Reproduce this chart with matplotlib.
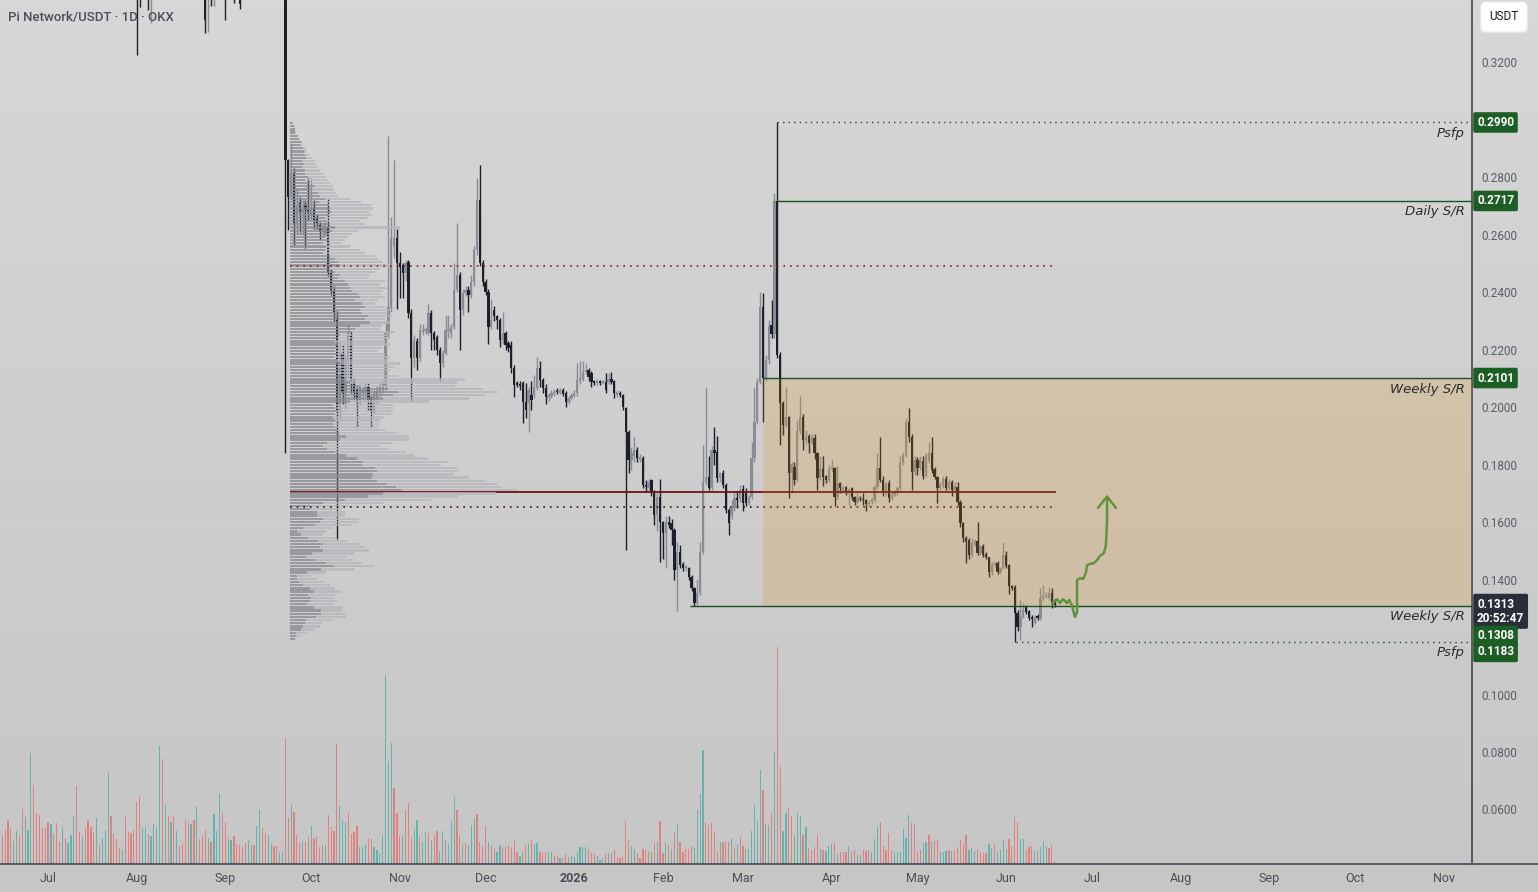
import numpy as np
import pandas as pd
import matplotlib
matplotlib.use("Agg")
import matplotlib.pyplot as plt
import matplotlib.dates as mdates
from matplotlib.colors import LinearSegmentedColormap
from matplotlib.lines import Line2D
from matplotlib.patches import Rectangle
from matplotlib.transforms import blended_transform_factory

plt.rcParams["font.family"] = ["Roboto", "DejaVu Sans"]

# ---- daily candles, 2025-06-15 .. 2026-06-18 ----
first_day = "2025-06-15"

opens = [
    # Jun - Sep 2025 (mostly above the visible range)
    .640, .625, .610, .598, .585, .592, .600, .588, .562, .570,
    .578, .605, .580, .566, .555, .548, .540, .532, .538, .530,
    .522, .515, .520, .512, .516, .521, .530, .505, .495, .500,
    .492, .482, .472, .465, .470, .462, .468, .474, .490, .475,
    .462, .452, .446, .450, .440, .432, .425, .418, .392, .370,
    .382, .395, .378, .386, .398, .405, .440, .410, .418, .405,
    .412, .402, .406, .398, .392, .385, .378, .384, .376, .382,
    .370, .360, .345, .352, .348, .356, .362, .375, .362, .350,
    .356, .360, .352, .3455, .350, .352, .347, .352, .358, .352,
    .357, .366, .358, .354, .358, .362, .358, .355, .358, .362,
    # Sep 24 - Dec 13
    .2859, .2730, .2814, .2640, .2713, .2675, .2705, .2685, .2665, .2696,
    .2660, .2633, .2609, .2605, .2626, .2466, .2407, .2310, .1990, .2188,
    .2050, .2164, .2250, .2094, .2059, .2024, .2050, .2049, .2070, .2035,
    .1983, .2024, .2049, .2059, .2070, .2257, .2348, .2560, .2588, .2501,
    .2494, .2466, .2505, .2327, .2170, .2230, .2170, .2260, .2265, .2257,
    .2327, .2257, .2244, .2198, .2153, .2188, .2265, .2257, .2278, .2407,
    .2459, .2337, .2397, .2407, .2390, .2435, .2546, .2720, .2501, .2435,
    .2400, .2278, .2337, .2316, .2303, .2233, .2257, .2223, .2216, .2136,
    .2084, .2080,
    # Dec 14 - Mar 14
    .2084, .2017, .2014, .2042, .2042, .2066, .2136, .2094, .2066, .2035,
    .2038, .2045, .2055, .2049, .2059, .2049, .2017, .2031, .2040, .2049,
    .2090, .2094, .2122, .2129, .2118, .2090, .2084, .2090, .2085, .2087,
    .2087, .2098, .2090, .2042, .2049, .2042, .1997, .1913, .1816, .1830,
    .1851, .1820, .1823, .1729, .1718, .1746, .1704, .1624, .1687, .1600,
    .1562, .1600, .1597, .1572, .1433, .1496, .1454, .1440, .1440, .1409,
    .1371, .1318, .1353, .1496, .1739, .1757, .1718, .1851, .1845, .1753,
    .1770, .1729, .1642, .1620, .1650, .1684, .1680, .1715, .1701, .1666,
    .1687, .1823, .1948, .2087, .2348, .2101, .2164, .2285, .2254, .2717,
    .2181,
    # Mar 15 - Jun 18
    .2014, .1937, .1965, .1770, .1790, .1745, .1917, .1965, .1885, .1899,
    .1880, .1892, .1840, .1753, .1784, .1760, .1746, .1784, .1788, .1687,
    .1736, .1708, .1722, .1701, .1718, .1687, .1670, .1684, .1680, .1675,
    .1662, .1670, .1677, .1722, .1788, .1746, .1704, .1736, .1684, .1694,
    .1701, .1718, .1809, .1833, .1948, .1896, .1774, .1816, .1788, .1812,
    .1760, .1812, .1840, .1784, .1757, .1718, .1729, .1750, .1718, .1739,
    .1711, .1722, .1670, .1597, .1545, .1538, .1485, .1520, .1534, .1492,
    .1515, .1488, .1478, .1426, .1451, .1458, .1426, .1440, .1485, .1450,
    .1377, .1374, .1284, .1235, .1270, .1305, .1290, .1270, .1250, .1273,
    .1266, .1336, .1340, .1336, .1353, .1318,
]

highs = [
    .648, .630, .615, .602, .600, .608, .606, .592, .578, .585,
    .625, .610, .585, .570, .560, .552, .545, .544, .542, .534,
    .526, .526, .523, .521, .527, .538, .534, .509, .506, .504,
    .496, .486, .476, .476, .473, .473, .480, .502, .494, .478,
    .466, .456, .455, .453, .444, .436, .429, .422, .396, .388,
    .400, .398, .392, .404, .412, .455, .448, .425, .421, .418,
    .415, .411, .409, .401, .395, .388, .390, .387, .388, .385,
    .373, .364, .356, .356, .360, .366, .382, .378, .366, .360,
    .364, .363, .355, .348, .352, .354, .356, .362, .361, .361,
    .372, .369, .361, .362, .366, .365, .361, .362, .366, .366,
    .2862, .2918, .2830, .2760, .2730, .2720, .2720, .2797, .2797, .2720,
    .2670, .2645, .2640, .2650, .2727, .2480, .2420, .2335, .2230, .2215,
    .2180, .2290, .2265, .2100, .2070, .2080, .2070, .2085, .2085, .2040,
    .2060, .2075, .2085, .2095, .2300, .2943, .2660, .2859, .2620, .2540,
    .2500, .2510, .2510, .2340, .2250, .2240, .2290, .2290, .2280, .2360,
    .2337, .2265, .2250, .2210, .2200, .2320, .2320, .2290, .2500, .2640,
    .2470, .2410, .2420, .2420, .2460, .2560, .2797, .2842, .2510, .2445,
    .2410, .2375, .2350, .2320, .2310, .2330, .2265, .2230, .2230, .2145,
    .2090, .2090,
    .2090, .2084, .2070, .2090, .2110, .2174, .2160, .2100, .2080, .2050,
    .2060, .2062, .2065, .2068, .2066, .2055, .2040, .2050, .2058, .2153,
    .2160, .2160, .2150, .2135, .2125, .2095, .2096, .2095, .2094, .2120,
    .2120, .2122, .2095, .2060, .2055, .2046, .2000, .1920, .1860, .1896,
    .1860, .1835, .1830, .1745, .1750, .1750, .1710, .1700, .1750, .1605,
    .1620, .1620, .1610, .1580, .1530, .1520, .1460, .1452, .1445, .1415,
    .1375, .1400, .1530, .1867, .2070, .1830, .1865, .1930, .1900, .1775,
    .1780, .1735, .1650, .1675, .1700, .1708, .1730, .1730, .1720, .1695,
    .1880, .2070, .2100, .2400, .2396, .2180, .2303, .2372, .2744, .2990,
    .2190,
    .2020, .2070, .1970, .1810, .1810, .1955, .2038, .1975, .1920, .1905,
    .1905, .1905, .1845, .1830, .1830, .1765, .1800, .1815, .1790, .1795,
    .1740, .1730, .1725, .1720, .1722, .1690, .1700, .1690, .1700, .1680,
    .1675, .1685, .1730, .1840, .1896, .1760, .1740, .1745, .1700, .1710,
    .1725, .1830, .1845, .1962, .1997, .1905, .1830, .1825, .1830, .1830,
    .1840, .1880, .1895, .1790, .1760, .1740, .1760, .1760, .1750, .1745,
    .1740, .1740, .1675, .1600, .1550, .1545, .1545, .1540, .1600, .1520,
    .1525, .1495, .1480, .1460, .1465, .1465, .1445, .1530, .1500, .1455,
    .1380, .1380, .1294, .1329, .1320, .1310, .1295, .1275, .1275, .1280,
    .1371, .1380, .1355, .1375, .1370, .1330,
]

lows = [
    .618, .603, .590, .578, .580, .588, .582, .555, .556, .565,
    .572, .572, .560, .548, .542, .534, .526, .528, .524, .516,
    .510, .511, .507, .508, .512, .518, .498, .489, .490, .486,
    .476, .466, .460, .461, .457, .458, .464, .470, .469, .456,
    .447, .441, .442, .435, .427, .420, .410, .3224, .339, .362,
    .376, .338, .3336, .382, .393, .402, .404, .406, .400, .401,
    .397, .398, .393, .387, .380, .372, .374, .370, .372, .364,
    .352, .330, .3304, .3395, .3395, .350, .358, .355, .3346, .346,
    .351, .3405, .3420, .3385, .3420, .3430, .344, .348, .3425, .349,
    .354, .352, .350, .351, .355, .354, .352, .353, .356, .184,
    .2616, .2720, .2563, .2605, .2610, .2600, .2555, .2650, .2650, .2620,
    .2620, .2581, .2595, .2595, .2455, .2390, .2300, .1541, .1955, .2010,
    .1993, .2100, .2050, .2030, .1930, .2010, .2030, .2040, .1990, .1930,
    .1975, .2010, .2040, .2050, .2060, .2240, .2330, .2520, .2340, .2380,
    .2380, .2440, .2310, .2020, .2140, .2130, .2160, .2250, .2255, .2250,
    .2200, .2200, .2180, .2090, .2140, .2180, .2240, .2240, .2270, .2400,
    .2200, .2320, .2385, .2330, .2380, .2420, .2530, .2490, .2420, .2390,
    .2220, .2270, .2300, .2270, .2210, .2220, .2200, .2190, .2120, .2035,
    .2070, .2060,
    .1944, .1962, .1913, .1990, .2030, .2060, .2070, .2050, .2010, .2020,
    .2030, .2040, .2045, .2045, .2038, .2000, .2010, .2025, .2035, .2040,
    .2080, .2090, .2115, .2090, .2070, .2078, .2078, .2078, .2080, .2050,
    .2080, .2080, .2030, .2035, .2035, .1990, .1503, .1770, .1780, .1810,
    .1810, .1810, .1720, .1705, .1710, .1690, .1590, .1570, .1460, .1470,
    .1440, .1580, .1520, .1400, .1290, .1440, .1430, .1430, .1400, .1360,
    .1308, .1312, .1345, .1490, .1730, .1710, .1710, .1800, .1740, .1740,
    .1720, .1630, .1555, .1610, .1640, .1650, .1670, .1640, .1655, .1660,
    .1680, .1810, .1940, .2080, .1948, .2090, .2150, .2240, .2240, .2170,
    .1868,
    .1903, .1930, .1684, .1700, .1730, .1740, .1905, .1850, .1870, .1840,
    .1870, .1820, .1711, .1745, .1725, .1735, .1740, .1775, .1656, .1680,
    .1700, .1700, .1695, .1660, .1675, .1660, .1665, .1672, .1660, .1638,
    .1655, .1662, .1670, .1715, .1740, .1690, .1695, .1670, .1678, .1690,
    .1695, .1712, .1800, .1825, .1880, .1711, .1765, .1765, .1780, .1750,
    .1755, .1805, .1770, .1750, .1666, .1712, .1720, .1710, .1710, .1690,
    .1705, .1660, .1583, .1530, .1458, .1470, .1478, .1515, .1485, .1485,
    .1478, .1470, .1409, .1415, .1445, .1420, .1420, .1435, .1440, .1350,
    .1365, .1183, .1220, .1190, .1265, .1280, .1260, .1235, .1245, .1260,
    .1260, .1330, .1335, .1330, .1300, .1305,
]

closes = [
    .625, .610, .598, .585, .592, .600, .588, .562, .570, .578,
    .605, .580, .566, .555, .548, .540, .532, .538, .530, .522,
    .515, .520, .512, .516, .521, .530, .505, .495, .500, .492,
    .482, .472, .465, .470, .462, .468, .474, .490, .475, .462,
    .452, .446, .450, .440, .432, .425, .418, .392, .370, .382,
    .395, .378, .386, .398, .405, .440, .410, .418, .405, .412,
    .402, .406, .398, .392, .385, .378, .384, .376, .382, .370,
    .360, .3346, .352, .348, .356, .362, .375, .362, .350, .356,
    .360, .352, .3455, .3402, .346, .347, .352, .358, .352, .357,
    .366, .358, .354, .358, .362, .358, .355, .358, .362, .2859,
    .2730, .2814, .2640, .2700, .2675, .2688, .2685, .2675, .2696, .2650,
    .2640, .2609, .2626, .2626, .2466, .2407, .2327, .1990, .2188, .2050,
    .2164, .2257, .2090, .2049, .2014, .2070, .2059, .2070, .2024, .1983,
    .2049, .2059, .2070, .2084, .2257, .2348, .2588, .2588, .2501, .2487,
    .2466, .2501, .2327, .2170, .2230, .2170, .2268, .2268, .2270, .2327,
    .2257, .2233, .2198, .2153, .2188, .2268, .2270, .2278, .2407, .2459,
    .2337, .2397, .2407, .2390, .2435, .2546, .2720, .2501, .2435, .2400,
    .2278, .2303, .2316, .2303, .2233, .2257, .2216, .2205, .2136, .2077,
    .2077, .2074,
    .2017, .1990, .2059, .2024, .2070, .2136, .2094, .2066, .2035, .2042,
    .2049, .2052, .2052, .2059, .2045, .2017, .2031, .2042, .2049, .2094,
    .2101, .2122, .2129, .2104, .2087, .2084, .2090, .2084, .2090, .2059,
    .2098, .2087, .2049, .2052, .2042, .2000, .1913, .1816, .1840, .1851,
    .1823, .1826, .1729, .1722, .1739, .1704, .1624, .1687, .1600, .1562,
    .1600, .1590, .1572, .1433, .1496, .1451, .1440, .1447, .1409, .1371,
    .1318, .1353, .1496, .1739, .1757, .1718, .1851, .1840, .1753, .1770,
    .1729, .1642, .1597, .1650, .1684, .1677, .1711, .1666, .1666, .1687,
    .1823, .1948, .2087, .2348, .2101, .2164, .2282, .2254, .2717, .2181,
    .2014,
    .1937, .1965, .1770, .1802, .1745, .1917, .1965, .1885, .1896, .1875,
    .1892, .1840, .1753, .1784, .1757, .1746, .1784, .1790, .1687, .1736,
    .1718, .1722, .1704, .1715, .1687, .1670, .1684, .1680, .1675, .1662,
    .1670, .1680, .1722, .1788, .1746, .1704, .1736, .1684, .1694, .1701,
    .1718, .1809, .1833, .1948, .1896, .1774, .1816, .1788, .1819, .1760,
    .1833, .1840, .1781, .1757, .1718, .1729, .1750, .1718, .1739, .1711,
    .1725, .1670, .1597, .1545, .1531, .1485, .1527, .1534, .1492, .1513,
    .1485, .1478, .1426, .1451, .1458, .1426, .1440, .1485, .1447, .1377,
    .1371, .1284, .1235, .1270, .1294, .1287, .1266, .1262, .1270, .1266,
    .1336, .1343, .1346, .1353, .1318, .1313,
]

volumes = [
    29, 34, 44, 36, 23, 33, 28, 55, 47, 34, 111, 79, 51, 49, 36, 36, 42, 40, 30, 41,
    22, 37, 26, 21, 29, 48, 78, 32, 27, 36, 44, 37, 31, 46, 19, 26, 34, 92, 48, 30,
    25, 16, 14, 47, 32, 31, 34, 62, 68, 36, 37, 30, 28, 40, 37, 118, 105, 60, 48, 42,
    49, 33, 18, 20, 44, 41, 40, 44, 58, 25, 29, 34, 26, 22, 50, 33, 70, 52, 42, 25,
    24, 28, 20, 19, 17, 21, 24, 19, 19, 38, 54, 36, 31, 29, 20, 18, 18, 12, 13, 126,
    46, 59, 52, 29, 21, 23, 22, 28, 38, 26, 28, 17, 19, 18, 49, 37, 33, 120, 58, 44,
    42, 51, 30, 32, 38, 17, 17, 19, 26, 25, 17, 14, 11, 29, 189, 103, 121, 76, 51, 28,
    29, 54, 61, 27, 35, 44, 27, 22, 32, 31, 24, 28, 33, 13, 33, 24, 20, 43, 67, 54,
    29, 19, 21, 19, 39, 46, 50, 22, 18, 38, 22, 19, 15, 12, 19, 17, 17, 19, 17, 23,
    12, 8, 12, 19, 20, 24, 19, 21, 12, 12, 12, 12, 12, 9, 8, 6, 6, 10, 7, 8,
    7, 12, 17, 17, 17, 15, 11, 10, 8, 4, 6, 10, 11, 11, 14, 7, 6, 8, 43, 24,
    18, 15, 11, 6, 15, 14, 13, 12, 21, 22, 43, 11, 21, 19, 15, 32, 40, 22, 12, 15,
    15, 18, 16, 54, 70, 114, 42, 39, 41, 33, 13, 22, 22, 22, 22, 26, 16, 19, 27,
    18, 15, 15, 33, 60, 43, 94, 74, 40, 39, 51, 112, 217, 97, 33, 51, 56, 48, 29, 52,
    48, 29, 37, 16, 14, 17, 29, 15, 14, 13, 18, 20, 21, 10, 12, 12, 12, 18, 12, 14,
    9, 9, 14, 13, 14, 12, 25, 37, 42, 18, 14, 31, 14, 12, 12, 12, 35, 26, 49, 41,
    41, 13, 14, 21, 22, 29, 22, 23, 24, 13, 12, 13, 14, 13, 14, 17, 24, 21, 29, 14,
    16, 13, 15, 12, 11, 11, 20, 16, 20, 12, 14, 24, 15, 25, 18, 47, 42, 25, 25, 14,
    17, 18, 13, 13, 17, 23, 18, 16, 19, 3,
]
# R = red (down) volume bar, T = teal (up) volume bar
volume_side = (
    "RRRRTTRRTT" "TRRRRRRTRR" "RTRTTTRRTR" "RRRTRTTTRR" "RRTRRRRRRT"
    "TRTTTTRTRT" "RTRRRRTRTR" "RRTRTTTRRT" "TRRRRRTTRT" "TRRTTRRTTR"
    "RTRRRTRRTR" "RRRTRRRRTT" "TRRRRTTTRR" "TTTTTTTRRR" "TRRRTTRTTR"
    "TRRTTRTTTR" "RTRTTTRRRR" "TRRTTRRRRR" "RTTRTRTTRR" "RTTRRTRRRT"
    "TTTTTRRRTT" "TRTRRRRRRR" "TTRRRRRTRT" "RRTRTRTRRR" "RRTTTTRRRR"
    "RTRRRTRTR"
    "RTTTTTTRTT" "RTRRTTRRTT" "TRTRRRRTRT" "TTRTRRRTRR" "TTRRRTTTRR"
    "RRRTTTTTTR" "RRRTTRTRRT" "TTRTRRRRRT" "TTRRRRTTRT" "TTTRRRRTTR"
    "RRTRTTTRRR"
)

# visible-range volume profile, rows from 0.2988 down to 0.1193
profile_top, profile_bottom = 0.2988, 0.1193
profile_down = [
    3, 4, 5, 5, 8, 9, 12, 10, 13, 14, 15, 16, 12, 14, 12, 15, 15, 18, 15, 20,
    25, 22, 28, 30, 35, 30, 38, 40, 42, 38, 35, 36, 40, 45, 42, 38, 35, 38, 33, 36,
    35, 33, 40, 45, 48, 50, 40, 45, 50, 48, 55, 58, 60, 62, 68, 70, 65, 72, 75, 70,
    72, 78, 75, 80, 70, 65, 62, 50, 48, 45, 48, 46, 45, 47, 44, 46, 50, 48, 50, 48,
    52, 55, 60, 70, 98, 108, 103, 93, 60, 43, 45, 47, 45, 43, 45, 43, 45, 47, 49, 56,
    50, 37, 33, 37, 45, 56, 67, 73, 72, 85, 87, 83, 82, 87, 97, 106, 112, 93, 78, 55,
    33, 20, 20, 27, 27, 33, 30, 25, 13, 7, 11, 18, 28, 33, 30, 33, 22, 16, 25, 36,
    44, 31, 17, 7, 7, 9, 13, 20, 24, 18, 21, 20, 17, 24, 31, 31, 26, 16, 15, 13,
    11, 6, 6, 5,
]
profile_total = [
    3, 5, 5, 6, 8, 10, 12, 13, 16, 17, 20, 22, 25, 26, 28, 30, 34, 36, 38, 40,
    43, 44, 46, 48, 60, 71, 82, 83, 80, 82, 78, 70, 75, 110, 68, 62, 58, 55, 52, 60,
    70, 75, 85, 88, 93, 100, 90, 85, 80, 78, 95, 90, 98, 92, 90, 95, 88, 85, 95, 100,
    98, 102, 95, 100, 92, 90, 105, 98, 100, 95, 100, 92, 88, 95, 100, 98, 110, 105, 100, 95,
    108, 175, 167, 165, 193, 208, 196, 179, 139, 104, 103, 103, 101, 94, 90, 89, 88, 96, 106, 119,
    119, 103, 90, 99, 116, 124, 138, 158, 151, 167, 169, 164, 179, 195, 207, 211, 228, 206, 168, 141,
    93, 60, 52, 55, 55, 69, 68, 61, 43, 36, 33, 47, 57, 70, 75, 79, 64, 56, 63, 72,
    84, 65, 36, 21, 28, 35, 40, 45, 51, 46, 44, 48, 44, 53, 52, 56, 56, 42, 32, 30,
    24, 17, 10, 5,
]
vah, poc, val = 0.2490, 0.1704, 0.1652

# drawn levels: (price, start date, label, line style)
levels = [
    (0.2990, "2026-03-13", "Psfp", ":"),
    (0.2717, "2026-03-13", "Daily S/R", "-"),
    (0.2101, "2026-03-08", "Weekly S/R", "-"),
    (0.1308, "2026-02-10 12:00", "Weekly S/R", "-"),
    (0.1183, "2026-06-04 12:00", "Psfp", ":"),
]

# hand-drawn projection (days after the last candle, price)
path_days = [-1.0, 0.8, 1.8, 2.9, 4.3, 5.0, 6.0, 6.7, 7.1, 7.8, 7.8, 8.8, 9.9,
             10.9, 11.3, 12.3, 13.7, 14.8, 15.8, 17.2, 17.9, 18.3, 18.3]
path_prices = [.1318, .1332, .1318, .1332, .1318, .1329, .1311, .1283, .1270, .1287,
               .1398, .1405, .1402, .1423, .1450, .1454, .1457, .1468, .1482, .1492,
               .1520, .1607, .1680]
head_days = [15.1, 18.3, 21.4]
head_prices = [.1649, .1689, .1649]

month_labels = ["Jul", "Aug", "Sep", "Oct", "Nov", "Dec", "2026", "Feb", "Mar",
                "Apr", "May", "Jun", "Jul", "Aug", "Sep", "Oct", "Nov"]
price_ticks = [0.06, 0.08, 0.10, 0.14, 0.16, 0.18, 0.20, 0.22, 0.24, 0.26, 0.28, 0.32]

# ---------------------------------------------------------------
o, h, l, c = map(np.array, (opens, highs, lows, closes))
dates = pd.date_range(first_day, periods=len(c), freq="D")
xd = mdates.date2num(dates)

W, H = 1538, 892
fig = plt.figure(figsize=(W / 100, H / 100), dpi=100)

bg = fig.add_axes([0, 0, 1, 1], zorder=0)
bg.imshow(np.linspace(0, 1, 256).reshape(-1, 1), aspect="auto",
          cmap=LinearSegmentedColormap.from_list("bg", ["#d7d7d7", "#c6c6c6"]),
          extent=(0, 1, 0, 1))
bg.axis("off")

rect = [0, 28 / H, 1472 / W, 864 / H]
vax = fig.add_axes(rect, zorder=1)
ax = fig.add_axes(rect, zorder=2)
ax.patch.set_visible(False)
vax.patch.set_visible(False)

xmin = mdates.date2num(pd.Timestamp("2025-07-01")) - 16.8
xmax = xmin + 514.7
px_day = 1472 / (xmax - xmin)

# volume
vcol = ["#26a69a" if s == "T" else "#ef5350" for s in volume_side]
vax.bar(xd, volumes, width=0.42, color=vcol, alpha=0.6, linewidth=0)
vax.set_xlim(xmin, xmax)
vax.set_ylim(0, 864)
vax.axis("off")

# candles
up = c >= o
ccol = np.where(up, "#898c95", "#1c202b")
ax.vlines(xd, l, h, colors=ccol, linewidth=1.0, zorder=2)
ax.bar(xd, np.maximum(np.abs(c - o), 0.0003), bottom=np.minimum(o, c), width=0.8,
       color=ccol, linewidth=0, zorder=2.1)

# volume profile
prof_start = mdates.date2num(pd.Timestamp("2025-09-23 14:00"))
prof_end = mdates.date2num(pd.Timestamp("2026-06-18 10:00"))
rows = np.linspace(profile_top, profile_bottom, len(profile_total))
step = (profile_top - profile_bottom) / (len(rows) - 1)
pdn = np.array(profile_down) / px_day
ptot = np.array(profile_total) / px_day
ax.hlines(poc, prof_start, prof_end, color="#6e1212", linewidth=1.3, zorder=2.6)
ax.barh(rows, pdn, left=prof_start, height=step * 0.72, color="#8a8c92",
        alpha=0.78, linewidth=0, zorder=3)
ax.barh(rows, ptot - pdn, left=prof_start + pdn, height=step * 0.72,
        color="#b5b7bc", alpha=0.78, linewidth=0, zorder=3)
ax.hlines(vah, prof_start, prof_end, color="#8e1c1c", linewidth=1.2,
          linestyle=(0, (1, 3)), zorder=3.5)
ax.hlines(val, prof_start, prof_end, color="#3e1010", linewidth=1.2,
          linestyle=(0, (1, 3)), zorder=3.5)

# range box
box_left = mdates.date2num(pd.Timestamp("2026-03-08"))
ax.add_patch(Rectangle((box_left, 0.1308), xmax - box_left, 0.2101 - 0.1308,
                       facecolor="#dd8f16", alpha=0.2, linewidth=0, zorder=4))

trans = blended_transform_factory(ax.transAxes, ax.transData)
for price, start, label, ls in levels:
    x0 = mdates.date2num(pd.Timestamp(start))
    if ls == ":":
        ax.hlines(price, x0, xmax, color="#1b4a20", linewidth=1.0,
                  linestyle=(0, (1, 3)), zorder=5)
    else:
        ax.hlines(price, x0, xmax, color="#19521e", linewidth=1.0, zorder=5)
    ax.annotate(label, xy=(1, price), xycoords=trans, xytext=(-7, -11),
                textcoords="offset pixels", ha="right", va="center", fontsize=9.5,
                family="DejaVu Sans", style="italic", color="#2b2b2b",
                annotation_clip=False, zorder=6)

# projection arrow
last = xd[-1]
ax.plot(last + np.array(path_days), path_prices, color="#63923f", linewidth=1.8,
        solid_capstyle="round", solid_joinstyle="round", zorder=6)
ax.plot(last + np.array(head_days), head_prices, color="#63923f", linewidth=1.8,
        solid_capstyle="round", solid_joinstyle="round", zorder=6)

# axes styling
ax.set_xlim(xmin, xmax)
ax.set_ylim(0.04104, 0.3416)
ax.yaxis.tick_right()
ax.set_yticks(price_ticks)
ax.yaxis.set_major_formatter(matplotlib.ticker.FormatStrFormatter("%.4f"))
ax.tick_params(axis="y", length=0, pad=7, labelsize=8.5, labelcolor="#5a5d68")
month_starts = pd.date_range("2025-07-01", "2026-11-01", freq="MS")
ax.set_xticks(mdates.date2num(month_starts))
ax.set_xticklabels(month_labels)
for t in ax.get_xticklabels():
    if t.get_text() == "2026":
        t.set_fontweight("bold")
ax.tick_params(axis="x", length=0, pad=5.5, labelsize=9, labelcolor="#4a4d57")
for s in ("top", "left"):
    ax.spines[s].set_visible(False)
for s in ("right", "bottom"):
    ax.spines[s].set_color("#4e515c")
    ax.spines[s].set_linewidth(1.3)
fig.add_artist(Line2D([1472 / W, 1], [28 / H, 28 / H], color="#4e515c", linewidth=1.3))


def tag(price, text, fc, dy=0, va="center"):
    ax.annotate(text, xy=(1, price), xycoords=trans, xytext=(5, dy),
                textcoords="offset pixels", ha="left", va=va, color="white",
                fontsize=8.5, fontweight="bold", linespacing=1.15,
                bbox=dict(boxstyle="round,pad=0.32,rounding_size=0.15", fc=fc, ec="none"),
                annotation_clip=False, zorder=10)


green = "#1d5e24"
tag(0.2990, "0.2990", green)
tag(0.2717, "0.2717", green)
tag(0.2101, "0.2101", green)
tag(0.1313, "0.1313\n20:52:47", "#2a2e39", dy=7, va="top")
tag(0.1308, "0.1308", green, dy=-30)
tag(0.1183, "0.1183", green, dy=-10)

fig.text(1504 / W, 1 - 17 / H, "USDT", ha="center", va="center", fontsize=8.5,
         color="#131722",
         bbox=dict(boxstyle="round,pad=0.75,rounding_size=0.45", fc="white", ec="#e4e4e4"))
fig.text(8 / W, 1 - 17 / H, "Pi Network/USDT · 1D · OKX", ha="left", va="center",
         fontsize=9.5, color="#4c4f59", fontweight="medium")

fig.savefig("out.png", dpi=100)
